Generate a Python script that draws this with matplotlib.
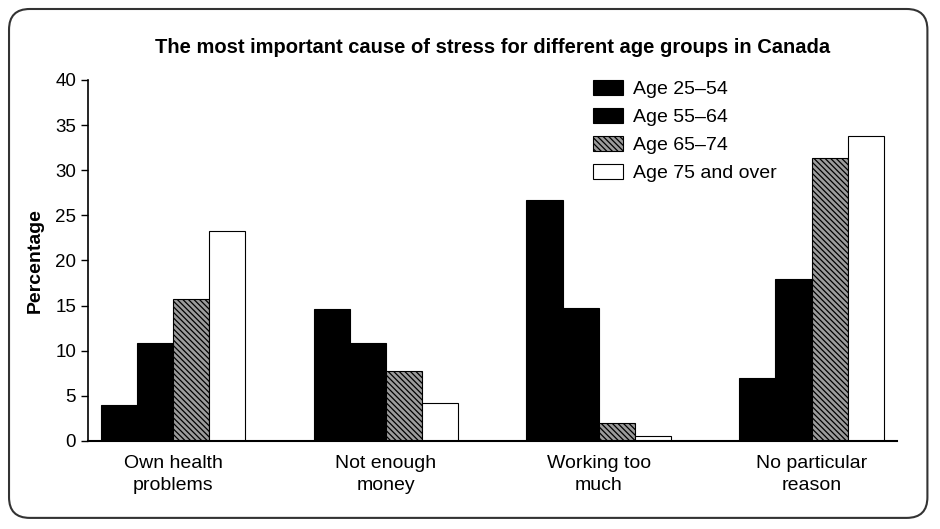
import matplotlib.pyplot as plt
import numpy as np
from matplotlib.patches import FancyBboxPatch

plt.rcParams['font.family'] = ['Liberation Sans', 'DejaVu Sans']
plt.rcParams['hatch.linewidth'] = 0.9
plt.rcParams['hatch.color'] = '#333333'

causes = ["Own health\nproblems", "Not enough\nmoney", "Working too\nmuch", "No particular\nreason"]
age_groups = ["Age 25\u201354", "Age 55\u201364", "Age 65\u201374", "Age 75 and over"]

age_25_54 = [4, 14.6, 26.7, 7]
age_55_64 = [10.8, 10.8, 14.7, 17.9]
age_65_74 = [15.7, 7.8, 2.0, 31.4]
age_75_over = [23.3, 4.2, 0.6, 33.8]

series = [age_25_54, age_55_64, age_65_74, age_75_over]
face = ["black", "black", "#9c9c9c", "white"]
hatches = [None, None, "\\\\\\\\\\\\", None]

fig = plt.figure(figsize=(9.4, 5.29), dpi=100)
ax = fig.add_axes([0.0936, 0.1664, 0.8604, 0.6826])

# rounded frame around the whole picture
frame = FancyBboxPatch((0.0096, 0.021), 0.977, 0.962,
                       boxstyle="round,pad=0,rounding_size=0.022",
                       transform=fig.transFigure, fill=False,
                       edgecolor="#333333", linewidth=1.5, mutation_aspect=940 / 529)
fig.patches.append(frame)

x = np.arange(len(causes))
w = 0.17
for i, vals in enumerate(series):
    ax.bar(x + (i - 1.5) * w, vals, w, color=face[i], edgecolor="black",
           hatch=hatches[i], linewidth=0.8, label=age_groups[i])

ax.set_xlim(-0.40, 3.40)
ax.set_ylim(0, 40)
ax.set_yticks(range(0, 41, 5))
ax.set_xticks(x)
ax.set_xticklabels(causes, fontsize=14, linespacing=1.38)
ax.tick_params(axis="x", length=0, pad=10)
ax.tick_params(axis="y", labelsize=13.5, length=5, width=1)
ax.spines["top"].set_visible(False)
ax.spines["right"].set_visible(False)
ax.spines["left"].set_linewidth(1.2)
ax.spines["bottom"].set_linewidth(1.5)

ax.set_ylabel("Percentage", fontsize=14, fontweight="bold", labelpad=8)
ax.set_title("The most important cause of stress for different age groups in Canada",
             fontsize=14.5, fontweight="bold", pad=19)

ax.legend(loc="upper left", bbox_to_anchor=(0.624, 1.0), frameon=False, fontsize=14,
          borderpad=0, borderaxespad=0,
          handlelength=1.55, handleheight=0.8, labelspacing=0.5, handletextpad=0.55)

plt.savefig("out.png")
plt.close()
